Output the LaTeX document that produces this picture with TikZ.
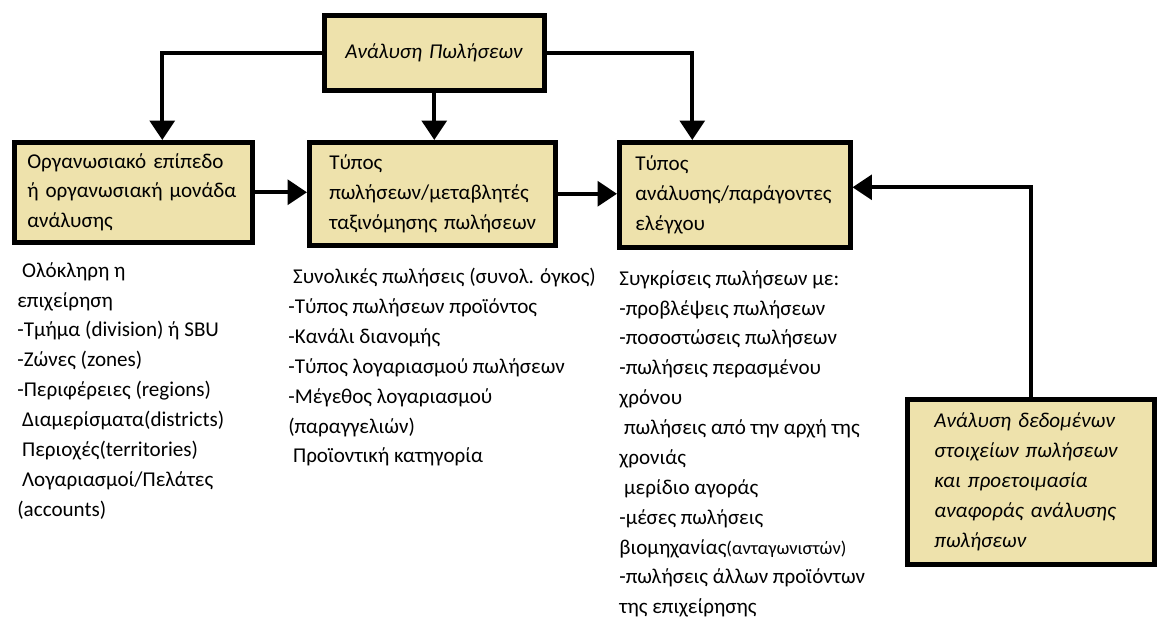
\documentclass[tikz,border=0pt]{standalone}
\usepackage{fontspec}
\setmainfont{Carlito}
\usetikzlibrary{arrows.meta}
\definecolor{boxtan}{RGB}{238,226,172}

\begin{document}
\begin{tikzpicture}[x=0.02cm, y=-0.02cm,
  font=\fontsize{12}{17}\selectfont,
  box/.style={draw, line width=2.6pt, fill=boxtan, align=left, inner ysep=0pt, anchor=north west},
  slant/.style={font=\fontsize{12}{17}\selectfont\itshape},
  link/.style={line width=2.2pt, -{Triangle[width=14pt,length=11pt]}},
  list/.style={anchor=north west, align=left, inner sep=0pt}]
\useasboundingbox (0,0) rectangle (1160,617);

% Κορυφή
\node[box, slant, minimum width=4.4cm, minimum height=1.5cm, inner xsep=4.2mm, text width=3.56cm] (top) at (322,13) {Ανάλυση~Πωλήσεων\\[2pt]};

% Τρία επίπεδα
\node[box, minimum width=4.76cm, minimum height=2cm, inner xsep=2.6mm, text width=4.24cm] (org) at (12,140) {Οργανωσιακό~επίπεδο\\ή~οργανωσιακή~μονάδα\\ανάλυσης};
\node[box, minimum width=4.92cm, minimum height=2.06cm, inner xsep=4mm, text width=4.12cm] (typ) at (307,140) {Τύπος\\πωλήσεων/μεταβλητές\\ταξινόμησης~πωλήσεων};
\node[box, minimum width=4.62cm, minimum height=2.1cm, inner xsep=3.2mm, text width=3.98cm] (ana) at (617,140) {Τύπος\\ανάλυσης/παράγοντες\\ελέγχου};

% Αναφορά
\node[box, slant, minimum width=4.94cm, minimum height=3.3cm, inner xsep=5.4mm, text width=3.86cm] (rep) at (905,397) {Ανάλυση~δεδομένων\\στοιχείων~πωλήσεων\\και~προετοιμασία\\αναφοράς~ανάλυσης\\πωλήσεων};

% Βέλη
\draw[link] (top.west) -| ([xshift=0.58cm]org.north);
\draw[link] (top.south) -- (top.south |- typ.north);
\draw[link] (top.east) -| ([xshift=-0.85cm]ana.north);
\draw[link] (org.east) -- (org.east -| typ.west);
\draw[link] (typ.east) -- (typ.east -| ana.west);
\draw[link] (rep.north) |- ([yshift=0.15cm]ana.east);

% Λίστες
\node[list] (lvl) at (17,262) {~Ολόκληρη η\\επιχείρηση\\-Τμήμα (division) ή SBU\\-Ζώνες (zones)\\-Περιφέρειες (regions)\\~Διαμερίσματα(districts)\\~Περιοχές(territories)\\~Λογαριασμοί/Πελάτες\\(accounts)};
\node[list] (kind) at (288,268) {~Συνολικές πωλήσεις (συνολ. όγκος)\\-Τύπος πωλήσεων προϊόντος\\-Κανάλι διανομής\\-Τύπος λογαριασμού πωλήσεων\\-Μέγεθος λογαριασμού\\(παραγγελιών)\\~Προϊοντική κατηγορία};
\node[list] (cmp) at (619,270) {Συγκρίσεις πωλήσεων με:\\-προβλέψεις πωλήσεων\\-ποσοστώσεις πωλήσεων\\-πωλήσεις περασμένου\\χρόνου\\~πωλήσεις από την αρχή της\\χρονιάς\\~μερίδιο αγοράς\\-μέσες πωλήσεις\\βιομηχανίας{\fontsize{10.5}{17}\selectfont(ανταγωνιστών)}\\-πωλήσεις άλλων προϊόντων\\της επιχείρησης};

\end{tikzpicture}
\end{document}
